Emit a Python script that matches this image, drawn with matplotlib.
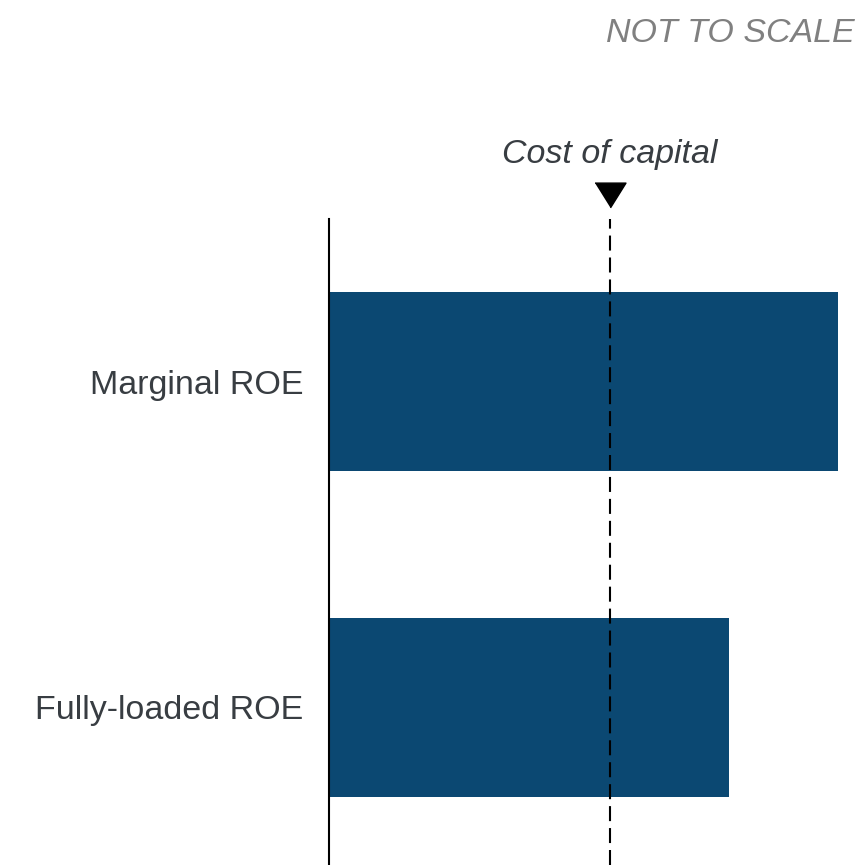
import matplotlib
matplotlib.use('Agg')
import matplotlib.pyplot as plt

plt.rcParams['font.family'] = ['Liberation Sans', 'DejaVu Sans']
plt.rcParams['lines.scale_dashes'] = False

# ROE by measure, arbitrary units (chart is not to scale)
categories = ['Fully-loaded ROE', 'Marginal ROE']
roe_values = [14.23, 18.1]
cost_of_capital = 10.0

bar_color = '#0b4872'
text_color = '#383d42'

fig = plt.figure(figsize=(8.62, 8.65), dpi=100)
ax = fig.add_axes([329 / 862, 0, 1 - 329 / 862, (865 - 219) / 865])

ypos = list(range(len(categories)))
ax.barh(ypos, roe_values, height=0.55, color=bar_color)

ax.set_xlim(0, 18.97)
ax.set_ylim(-0.485, 1.5)
ax.set_yticks(ypos)
ax.set_yticklabels(categories, fontsize=24.5, color=text_color)
ax.tick_params(axis='y', length=0, pad=18.5)
ax.set_xticks([])

for side in ['top', 'right', 'bottom']:
    ax.spines[side].set_visible(False)
ax.spines['left'].set_linewidth(1.5)
ax.spines['left'].set_color('black')

# cost of capital marker line
ax.axvline(cost_of_capital, color='black', lw=1.5, dashes=(10.8, 5.0), zorder=3)
ax.plot([cost_of_capital], [1.574], marker=[(-1, 0.8), (1, 0.8), (0, -0.8)],
        markersize=22.3, color='black', clip_on=False)
ax.text(cost_of_capital, 1.697, 'Cost of capital', ha='center', va='center',
        fontsize=24.5, style='italic', color=text_color, clip_on=False)

fig.text(855 / 862, 1 - 33 / 865, 'NOT TO SCALE', ha='right', va='center',
         fontsize=24.5, style='italic', color='#808080')

fig.savefig('out.png', dpi=100)
